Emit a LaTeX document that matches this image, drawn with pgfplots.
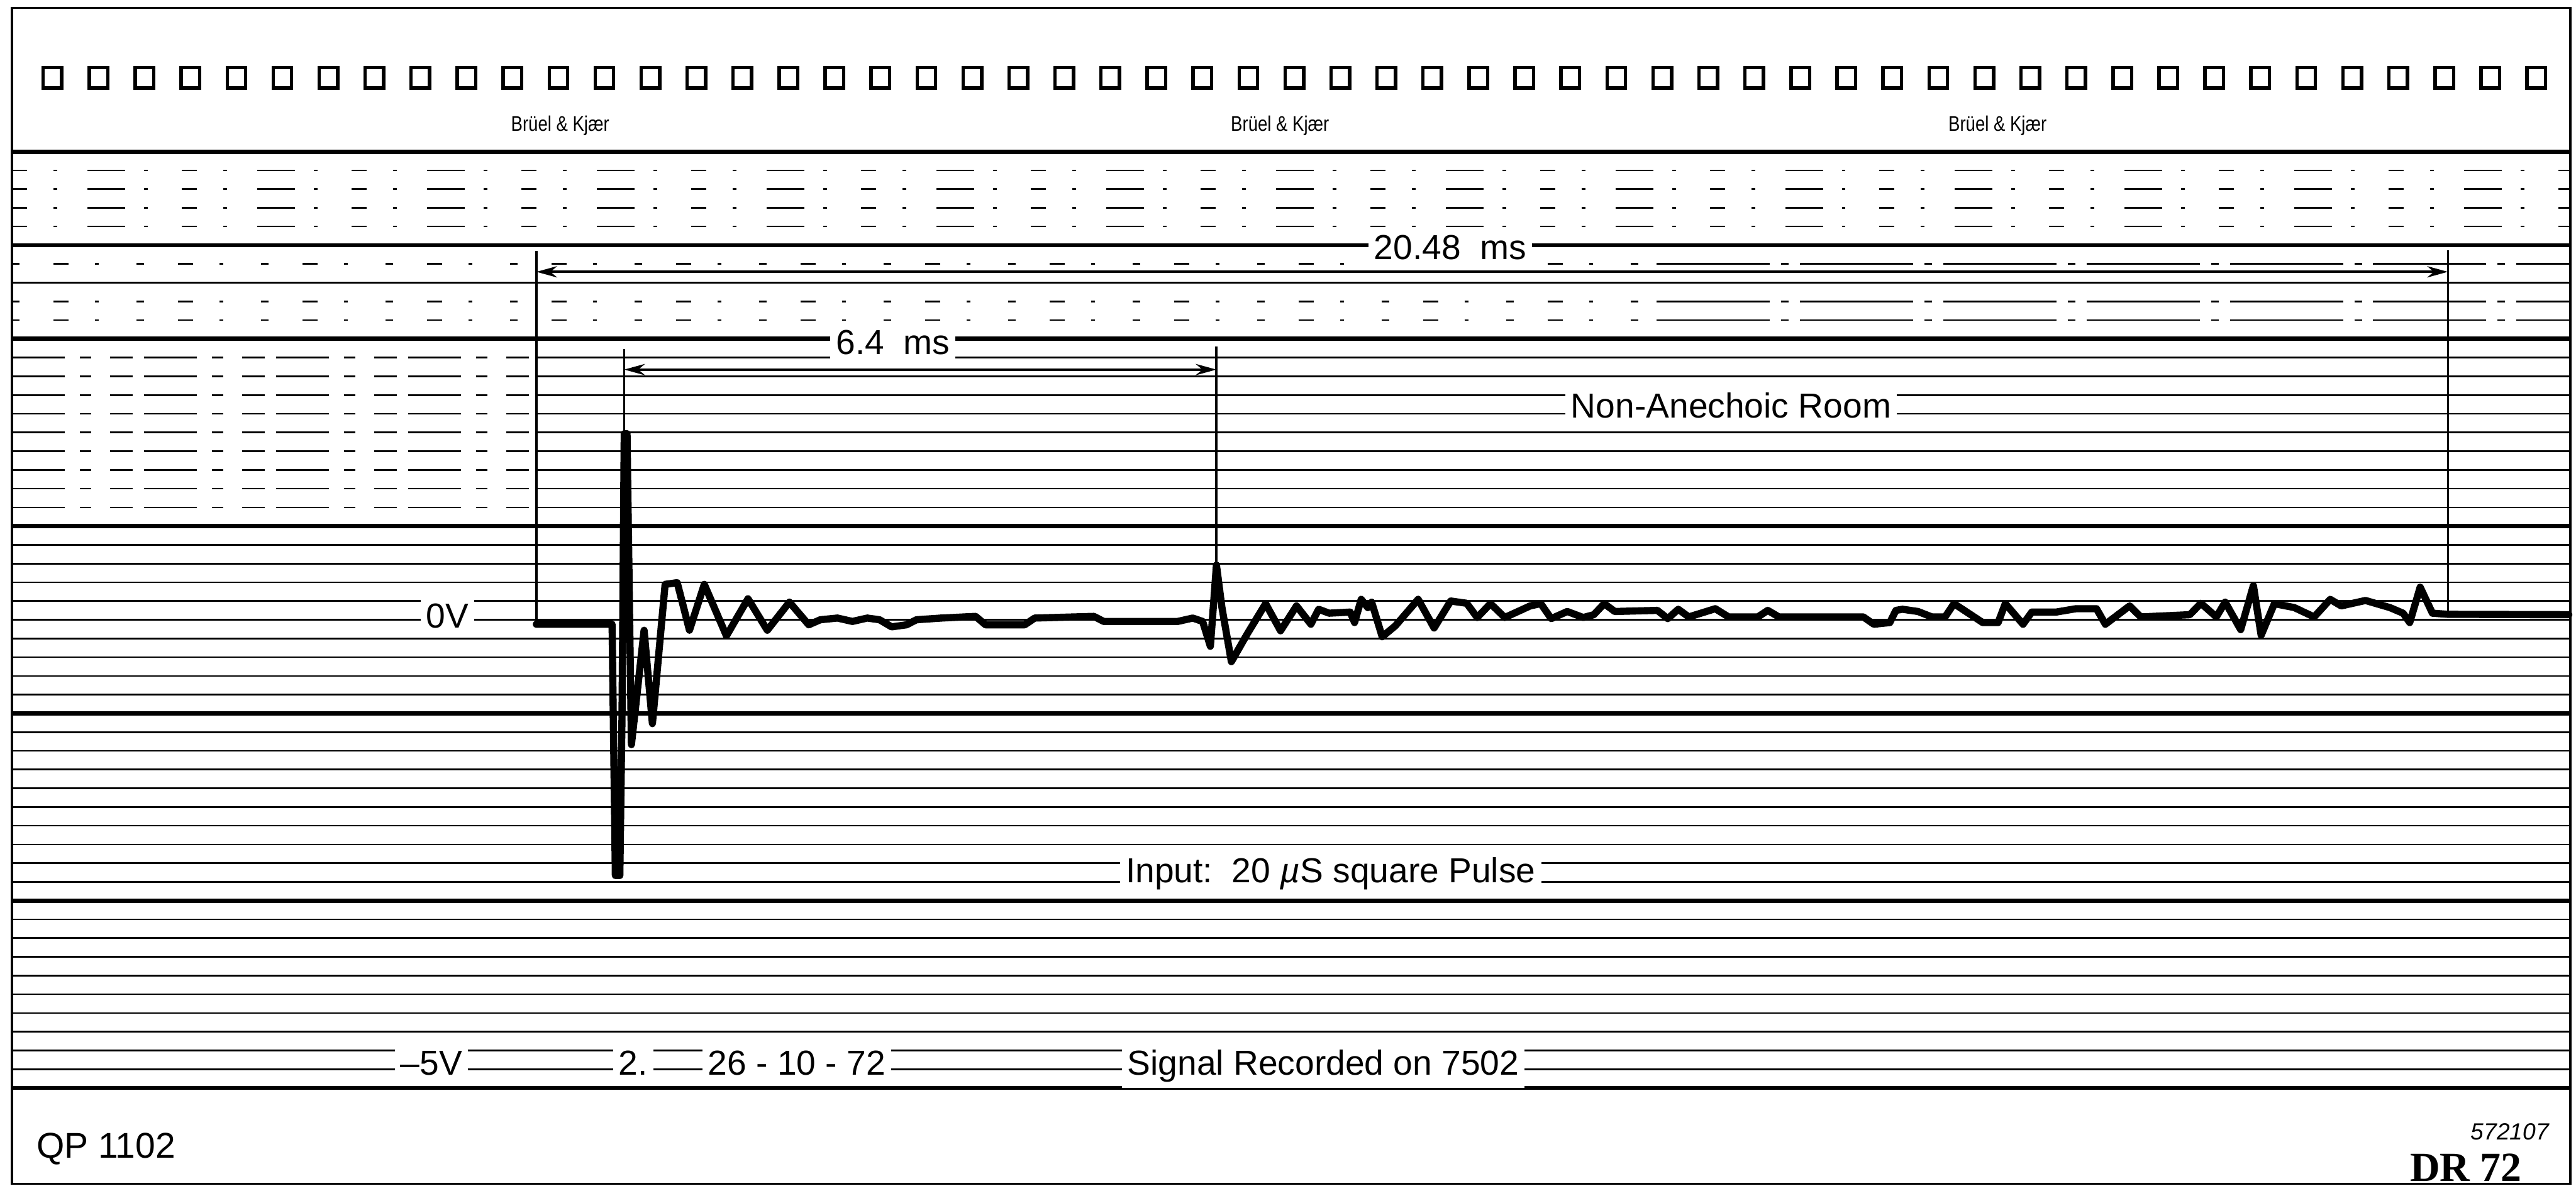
\documentclass[border=0pt]{standalone}
\usepackage{pgfplots}
\pgfplotsset{compat=1.18}
\usepackage{fontspec}
\setmainfont{Liberation Sans}
\newfontfamily\serifbf{Liberation Serif}
\usetikzlibrary{arrows.meta}
\newcommand\lab{\fontsize{9.2}{11}\selectfont}
\begin{document}
\begin{tikzpicture}
\begin{axis}[
  width=24cm, height=11.05cm, scale only axis,
  xmin=-5.747, xmax=21.853, ymin=-30.236, ymax=33.097,
  hide axis, clip=false,
]
\path (rel axis cs:0,0) rectangle (rel axis cs:1,1);
% ---- recorder paper grid ----
% lower part: solid
\pgfplotsinvokeforeach{-24,-23,-22,-21,-20,-19,-18,-17,-16,-14,-13,-12,-11,-10,-9,-8,-7,-6,-4,-3,-2,-1,0,1,2,3,4,18}{
  \draw[line width=0.45pt] (axis cs:-5.617,#1) -- (axis cs:21.79,#1);
}
% upper middle rows: broken on the left, solid on the right
\pgfplotsinvokeforeach{6,7,8,9,10,11,12,13,14}{
  \draw[line width=0.45pt, dash pattern=on 14pt off 4pt on 3pt off 5pt on 6pt off 3pt] (axis cs:-5.617,#1) -- (axis cs:0,#1);
  \draw[line width=0.45pt] (axis cs:0,#1) -- (axis cs:21.79,#1);
}
\pgfplotsinvokeforeach{16,17,19}{
  \draw[line width=0.45pt, dash pattern=on 2pt off 9pt on 4pt off 7pt on 1pt off 10pt] (axis cs:-5.617,#1) -- (axis cs:12,#1);
  \draw[line width=0.45pt, dash pattern=on 30pt off 3pt on 2pt off 3pt] (axis cs:12,#1) -- (axis cs:21.79,#1);
}
\pgfplotsinvokeforeach{21,22,23,24}{
  \draw[line width=0.4pt, dash pattern=on 4pt off 7pt on 1pt off 8pt on 10pt off 5pt on 1pt off 9pt] (axis cs:-5.617,#1) -- (axis cs:21.79,#1);
}
\draw[line width=0.9pt] (axis cs:-5.617,20) -- (axis cs:21.79,20);
\pgfplotsinvokeforeach{-25,-15,-5,5,15,25}{
  \draw[line width=1.15pt] (axis cs:-5.617,#1) -- (axis cs:21.79,#1);
}
% ---- frame ----
\draw[line width=0.6pt] (axis cs:-5.617,32.68) -- (axis cs:21.79,32.68) -- (axis cs:21.79,-30.12) -- (axis cs:-5.617,-30.12) -- cycle;
% ---- sprocket holes ----
\addplot[only marks, mark=square, mark size=2.45pt, mark options={line width=0.9pt, black, yscale=1.1}] coordinates {
(-5.185,28.94) (-4.692,28.94) (-4.199,28.94) (-3.707,28.94) (-3.214,28.94) (-2.721,28.94) (-2.228,28.94) (-1.735,28.94) (-1.243,28.94) (-0.750,28.94)
(-0.257,28.94) (0.236,28.94) (0.729,28.94) (1.221,28.94) (1.714,28.94) (2.207,28.94) (2.700,28.94) (3.193,28.94) (3.685,28.94) (4.178,28.94)
(4.671,28.94) (5.164,28.94) (5.657,28.94) (6.149,28.94) (6.642,28.94) (7.135,28.94) (7.628,28.94) (8.121,28.94) (8.613,28.94) (9.106,28.94)
(9.599,28.94) (10.092,28.94) (10.585,28.94) (11.077,28.94) (11.570,28.94) (12.063,28.94) (12.556,28.94) (13.049,28.94) (13.541,28.94) (14.034,28.94)
(14.527,28.94) (15.020,28.94) (15.513,28.94) (16.005,28.94) (16.498,28.94) (16.991,28.94) (17.484,28.94) (17.977,28.94) (18.469,28.94) (18.962,28.94)
(19.455,28.94) (19.948,28.94) (20.441,28.94) (20.933,28.94) (21.426,28.94)
};
\pgfplotsinvokeforeach{0.255,7.967,15.655}{
  \node[anchor=base, inner sep=0pt] at (axis cs:#1,26.08) {\fontsize{5.6}{6}\selectfont\scalebox{0.82}[1]{Brüel \& Kjær}};
}
% ---- labels on the paper ----
\node[fill=white, inner sep=1.5pt, anchor=base] at (axis cs:-0.953,-0.44) {\lab 0V};
\node[fill=white, inner sep=1.5pt, anchor=base] at (axis cs:9.79,19.23) {\lab 20.48\ \ ms};
\node[fill=white, inner sep=1.5pt, anchor=base] at (axis cs:3.82,14.16) {\lab 6.4\ \ ms};
\node[fill=white, inner sep=1.5pt, anchor=base] at (axis cs:12.80,10.77) {\lab Non-Anechoic Room};
\node[fill=white, inner sep=1.5pt, anchor=base] at (axis cs:8.51,-14.05) {\lab Input:\ \ 20 \textit{µ}S square Pulse};
\node[fill=white, inner sep=1.5pt, anchor=base] at (axis cs:-1.125,-24.3) {\lab –5V};
\node[fill=white, inner sep=1.5pt, anchor=base] at (axis cs:1.036,-24.3) {\lab 2.};
\node[fill=white, inner sep=1.5pt, anchor=base] at (axis cs:2.79,-24.3) {\lab 26 - 10 - 72};
\node[fill=white, inner sep=1.5pt, anchor=base] at (axis cs:8.43,-24.3) {\lab Signal Recorded on 7502};
\node[anchor=base west, inner sep=0pt] at (axis cs:-5.363,-28.76) {\fontsize{9.5}{11}\selectfont QP 1102};
\node[anchor=base east, inner sep=0pt] at (axis cs:21.57,-27.76) {\fontsize{6.2}{7}\selectfont\itshape 572107};
\node[anchor=base east, inner sep=0pt] at (axis cs:21.28,-30.0) {\fontsize{11}{12}\selectfont\serifbf\bfseries DR 72};
% ---- time markers ----
\draw[line width=0.6pt] (axis cs:0,19.7) -- (axis cs:0,-0.24);
\draw[line width=0.6pt] (axis cs:20.48,19.73) -- (axis cs:20.48,0.29);
\draw[line width=0.6pt] (axis cs:0.941,14.45) -- (axis cs:0.941,9.94);
\draw[line width=0.6pt] (axis cs:7.286,14.6) -- (axis cs:7.286,2.92);
\draw[line width=0.6pt, {Stealth[length=5.5pt,width=3pt]}-{Stealth[length=5.5pt,width=3pt]}] (axis cs:0,18.58) -- (axis cs:20.48,18.58);
\draw[line width=0.6pt, {Stealth[length=5.5pt,width=3pt]}-{Stealth[length=5.5pt,width=3pt]}] (axis cs:0.941,13.36) -- (axis cs:7.286,13.36);
% ---- recorded signal ----
\addplot[black, line width=1.9pt, line join=round, line cap=round] coordinates {
(0,-0.24) (0.811,-0.24) (0.846,-13.66) (0.894,-13.66) (0.917,-5.25) (0.941,9.94) (0.971,9.94) (1.018,-6.67) (1.154,-0.56) (1.243,-5.55)
(1.379,1.89) (1.509,1.98) (1.640,-0.56) (1.799,1.89) (2.036,-0.86) (2.267,1.12) (2.474,-0.56) (2.711,0.94) (2.918,-0.27) (3.042,0)
(3.226,0.09) (3.386,-0.09) (3.545,0.09) (3.676,0) (3.806,-0.38) (3.966,-0.27) (4.072,0) (4.339,0.09) (4.706,0.18) (4.812,-0.27)
(5.232,-0.27) (5.339,0.09) (5.972,0.18) (6.079,-0.09) (6.872,-0.09) (7.032,0.09) (7.138,-0.09) (7.221,-1.42) (7.286,2.92) (7.345,0.65)
(7.446,-2.24) (7.618,-0.74) (7.813,0.86) (7.973,-0.59) (8.144,0.74) (8.298,-0.24) (8.381,0.56) (8.494,0.35) (8.719,0.41) (8.766,-0.15)
(8.837,1.09) (8.908,0.65) (8.949,0.94) (9.062,-0.91) (9.204,-0.32) (9.447,1.09) (9.618,-0.44) (9.796,1.00) (9.967,0.88) (10.080,0.12)
(10.222,0.86) (10.376,0.12) (10.648,0.74) (10.761,0.86) (10.873,0.06) (11.045,0.44) (11.216,0.12) (11.329,0.27) (11.441,0.86) (11.554,0.44)
(12.010,0.50) (12.122,0.06) (12.234,0.56) (12.347,0.15) (12.631,0.59) (12.773,0.15) (13.087,0.15) (13.193,0.50) (13.312,0.15) (14.217,0.15)
(14.330,-0.24) (14.501,-0.15) (14.566,0.50) (14.637,0.56) (14.803,0.44) (14.951,0.15) (15.093,0.15) (15.188,0.86) (15.496,-0.15) (15.661,-0.15)
(15.738,0.86) (15.928,-0.24) (16.022,0.41) (16.283,0.41) (16.496,0.59) (16.715,0.59) (16.810,-0.24) (17.070,0.74) (17.189,0.15) (17.715,0.27)
(17.834,0.88) (17.999,0.15) (18.094,0.94) (18.260,-0.53) (18.396,1.83) (18.479,-0.83) (18.621,0.86) (18.834,0.65) (19.047,0.15) (19.219,1.09)
(19.337,0.74) (19.597,1.03) (19.858,0.65) (20.000,0.35) (20.071,-0.15) (20.183,1.74) (20.314,0.35) (20.480,0.29) (21.775,0.27)
};
\end{axis}
\end{tikzpicture}
\end{document}
